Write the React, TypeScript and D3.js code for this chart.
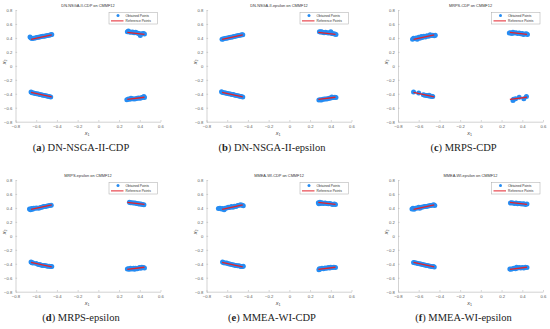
import React, { useRef, useEffect } from 'react';
import * as d3 from 'd3';

type Pt = [number, number];

// ─── data ────────────────────────────────────────────────────────────────────
const panelTitles = [
    'DN-NSGA-II-CDP on CMMF12',
    'DN-NSGA-II-epsilon on CMMF12',
    'MRPS-CDP on CMMF12',
    'MRPS-epsilon on CMMF12',
    'MMEA-WI-CDP on CMMF12',
    'MMEA-WI-epsilon on CMMF12',
];
const captionLetters = ['a', 'b', 'c', 'd', 'e', 'f'];
const captionNames = [
    'DN-NSGA-II-CDP',
    'DN-NSGA-II-epsilon',
    'MRPS-CDP',
    'MRPS-epsilon',
    'MMEA-WI-CDP',
    'MMEA-WI-epsilon',
];
const xTicks = [-0.8, -0.6, -0.4, -0.2, 0, 0.2, 0.4, 0.6];
const yTicks = [-0.8, -0.6, -0.4, -0.2, 0, 0.2, 0.4, 0.6, 0.8];
const legendLabels = ['Obtained Points', 'Reference Points'];

// four pieces of the reference Pareto set
const referenceSegments: Pt[][] = [
    [[-0.65, 0.38], [-0.45, 0.445]],
    [[0.28, 0.48], [0.445, 0.45]],
    [[-0.65, -0.38], [-0.45, -0.445]],
    [[0.28, -0.48], [0.445, -0.45]],
];

const dnNsgaCdp: Pt[] = [
    [-0.66, 0.415], [-0.65, 0.40], [-0.64, 0.39], [-0.625, 0.395], [-0.61, 0.40], [-0.595, 0.405], [-0.58, 0.41], [-0.565, 0.415],
    [-0.55, 0.42], [-0.535, 0.425], [-0.52, 0.425], [-0.505, 0.43], [-0.49, 0.435], [-0.475, 0.44], [-0.46, 0.445], [-0.45, 0.45],
    [0.28, 0.49], [0.29, 0.50], [0.30, 0.485], [0.315, 0.48], [0.33, 0.485], [0.345, 0.475], [0.36, 0.48], [0.375, 0.47],
    [0.39, 0.465], [0.40, 0.455], [0.405, 0.435], [0.42, 0.46], [0.435, 0.465], [0.445, 0.455],
    [-0.65, -0.375], [-0.64, -0.385], [-0.625, -0.39], [-0.61, -0.395], [-0.595, -0.40], [-0.58, -0.405], [-0.565, -0.41],
    [-0.55, -0.415], [-0.535, -0.42], [-0.52, -0.425], [-0.505, -0.43], [-0.49, -0.435], [-0.475, -0.44], [-0.46, -0.445],
    [0.275, -0.485], [0.29, -0.475], [0.305, -0.48], [0.315, -0.465], [0.33, -0.47], [0.345, -0.475], [0.36, -0.47],
    [0.375, -0.465], [0.39, -0.46], [0.405, -0.465], [0.42, -0.455], [0.43, -0.45], [0.44, -0.44], [0.445, -0.455],
];

const dnNsgaEps: Pt[] = [
    [-0.65, 0.38], [-0.64, 0.385], [-0.625, 0.39], [-0.61, 0.395], [-0.595, 0.40], [-0.58, 0.405], [-0.565, 0.41], [-0.55, 0.415],
    [-0.535, 0.42], [-0.52, 0.425], [-0.505, 0.43], [-0.49, 0.435], [-0.475, 0.44], [-0.46, 0.445], [-0.45, 0.445],
    [0.29, 0.49], [0.30, 0.485], [0.31, 0.49], [0.32, 0.48], [0.335, 0.475], [0.35, 0.48], [0.365, 0.475], [0.38, 0.47],
    [0.395, 0.475], [0.40, 0.49], [0.41, 0.465], [0.425, 0.46], [0.44, 0.455], [0.45, 0.45],
    [-0.655, -0.37], [-0.645, -0.38], [-0.63, -0.385], [-0.615, -0.39], [-0.60, -0.395], [-0.585, -0.40], [-0.57, -0.405],
    [-0.555, -0.41], [-0.54, -0.41], [-0.525, -0.42], [-0.51, -0.425], [-0.495, -0.43], [-0.48, -0.435], [-0.465, -0.44], [-0.45, -0.445],
    [0.285, -0.49], [0.30, -0.485], [0.31, -0.49], [0.325, -0.48], [0.34, -0.475], [0.355, -0.475], [0.37, -0.47],
    [0.385, -0.465], [0.40, -0.46], [0.41, -0.445], [0.425, -0.455], [0.44, -0.45], [0.45, -0.455],
];

const mrpsCdp: Pt[] = [
    [-0.66, 0.38], [-0.65, 0.395], [-0.64, 0.39], [-0.625, 0.40], [-0.615, 0.38], [-0.60, 0.41], [-0.59, 0.395], [-0.575, 0.42],
    [-0.565, 0.405], [-0.55, 0.425], [-0.535, 0.415], [-0.52, 0.43], [-0.505, 0.425], [-0.49, 0.445], [-0.48, 0.435],
    [-0.465, 0.44], [-0.45, 0.43], [-0.44, 0.44],
    [0.275, 0.47], [0.285, 0.475], [0.30, 0.465], [0.31, 0.48], [0.325, 0.47], [0.34, 0.475], [0.355, 0.465], [0.37, 0.47],
    [0.385, 0.46], [0.40, 0.465], [0.41, 0.45], [0.425, 0.455], [0.44, 0.46], [0.45, 0.45],
    [-0.65, -0.375], [-0.60, -0.39], [-0.555, -0.415], [-0.54, -0.42], [-0.525, -0.425], [-0.51, -0.43], [-0.50, -0.42],
    [-0.49, -0.435], [-0.475, -0.435], [-0.465, -0.44],
    [0.31, -0.495], [0.315, -0.48], [0.335, -0.47], [0.37, -0.45], [0.415, -0.47], [0.44, -0.44],
];

const mrpsEps: Pt[] = [
    [-0.665, 0.385], [-0.655, 0.375], [-0.645, 0.39], [-0.635, 0.38], [-0.625, 0.395], [-0.61, 0.395], [-0.595, 0.40],
    [-0.575, 0.395], [-0.56, 0.405], [-0.545, 0.41], [-0.53, 0.42], [-0.515, 0.42], [-0.50, 0.425], [-0.485, 0.43],
    [-0.47, 0.435], [-0.455, 0.44],
    [0.30, 0.48], [0.31, 0.475], [0.325, 0.475], [0.34, 0.47], [0.355, 0.47], [0.37, 0.465], [0.385, 0.46], [0.395, 0.455],
    [0.41, 0.455], [0.425, 0.45], [0.44, 0.445],
    [-0.65, -0.375], [-0.64, -0.385], [-0.63, -0.39], [-0.60, -0.395], [-0.58, -0.41], [-0.565, -0.41], [-0.55, -0.42],
    [-0.535, -0.425], [-0.52, -0.425], [-0.505, -0.43], [-0.49, -0.435], [-0.475, -0.435], [-0.46, -0.44], [-0.45, -0.44],
    [0.28, -0.475], [0.29, -0.47], [0.30, -0.48], [0.31, -0.465], [0.325, -0.475], [0.34, -0.465], [0.35, -0.48], [0.36, -0.465],
    [0.375, -0.47], [0.39, -0.46], [0.40, -0.455], [0.41, -0.465], [0.42, -0.45], [0.435, -0.455], [0.445, -0.46],
];

const mmeaCdp: Pt[] = [
    [-0.685, 0.39], [-0.67, 0.395], [-0.655, 0.385], [-0.645, 0.39], [-0.63, 0.375], [-0.62, 0.395], [-0.605, 0.40], [-0.59, 0.41],
    [-0.575, 0.405], [-0.56, 0.42], [-0.545, 0.41], [-0.53, 0.425], [-0.515, 0.42], [-0.50, 0.435], [-0.485, 0.44],
    [-0.47, 0.445], [-0.455, 0.44], [-0.445, 0.43],
    [0.28, 0.475], [0.285, 0.46], [0.295, 0.48], [0.305, 0.465], [0.315, 0.475], [0.33, 0.465], [0.345, 0.47], [0.36, 0.465],
    [0.375, 0.46], [0.39, 0.465], [0.405, 0.455], [0.42, 0.45], [0.435, 0.455], [0.445, 0.45],
    [-0.645, -0.375], [-0.635, -0.385], [-0.62, -0.39], [-0.605, -0.39], [-0.59, -0.40], [-0.575, -0.405], [-0.56, -0.41],
    [-0.545, -0.415], [-0.53, -0.42], [-0.515, -0.425], [-0.50, -0.43], [-0.485, -0.43], [-0.47, -0.44], [-0.455, -0.44], [-0.445, -0.435],
    [0.285, -0.485], [0.29, -0.47], [0.30, -0.475], [0.315, -0.465], [0.33, -0.47], [0.345, -0.46], [0.36, -0.465],
    [0.375, -0.455], [0.39, -0.46], [0.40, -0.45], [0.415, -0.455], [0.43, -0.45], [0.445, -0.455],
];

const mmeaEps: Pt[] = [
    [-0.665, 0.385], [-0.655, 0.395], [-0.645, 0.38], [-0.63, 0.395], [-0.615, 0.40], [-0.60, 0.41], [-0.59, 0.395],
    [-0.575, 0.41], [-0.56, 0.415], [-0.545, 0.42], [-0.53, 0.42], [-0.515, 0.425], [-0.50, 0.43], [-0.485, 0.435],
    [-0.47, 0.44], [-0.455, 0.445], [-0.445, 0.435],
    [0.285, 0.47], [0.295, 0.475], [0.31, 0.47], [0.325, 0.465], [0.34, 0.47], [0.355, 0.46], [0.37, 0.465], [0.385, 0.46],
    [0.40, 0.455], [0.415, 0.46], [0.43, 0.45], [0.445, 0.455],
    [-0.65, -0.38], [-0.64, -0.385], [-0.625, -0.39], [-0.61, -0.395], [-0.595, -0.40], [-0.58, -0.405], [-0.565, -0.41],
    [-0.55, -0.415], [-0.535, -0.42], [-0.52, -0.425], [-0.505, -0.43], [-0.49, -0.435], [-0.475, -0.44], [-0.46, -0.44], [-0.45, -0.445],
    [0.28, -0.475], [0.29, -0.48], [0.305, -0.47], [0.32, -0.465], [0.335, -0.47], [0.345, -0.45], [0.355, -0.46],
    [0.37, -0.455], [0.385, -0.46], [0.40, -0.455], [0.415, -0.46], [0.43, -0.45], [0.445, -0.455],
];

const obtainedSets = [dnNsgaCdp, dnNsgaEps, mrpsCdp, mrpsEps, mmeaCdp, mmeaEps];

// ─── layout ─────────────────────────────────────────────────────────────────
const W = 550;
const H = 329;
const colLeft = [15.5, 206.5, 398];
const rowTop = [10, 180];
const plotW = 145;
const plotH = 111.7;

const BLUE = '#268cf2';
const RED = '#e3222b';
const AXIS = '#b5b5b5';
const SANS = 'Liberation Sans, Arial, sans-serif';

const App: React.FC = () => {
    const ref = useRef<SVGSVGElement | null>(null);

    useEffect(() => {
        document.body.style.margin = '0';
        if (!ref.current) return;
        const svg = d3.select(ref.current);
        svg.selectAll('*').remove();

        svg.append('rect').attr('width', W).attr('height', H).attr('fill', '#fff');

        obtainedSets.forEach((points, i) => {
            const left = colLeft[i % 3];
            const top = rowTop[Math.floor(i / 3)];
            const x = d3.scaleLinear().domain([-0.8, 0.6]).range([left, left + plotW]);
            const y = d3.scaleLinear().domain([-0.8, 0.8]).range([top + plotH, top]);
            const g = svg.append('g');

            // axes (box off, ticks inward)
            const xAxis = g.append('g')
                .attr('transform', `translate(0,${top + plotH})`)
                .call(d3.axisBottom(x).tickValues(xTicks).tickSizeInner(-1.6).tickSizeOuter(0).tickPadding(3.2)
                    .tickFormat(d => d3.format('')(+d)));
            const yAxis = g.append('g')
                .attr('transform', `translate(${left},0)`)
                .call(d3.axisLeft(y).tickValues(yTicks).tickSizeInner(-1.6).tickSizeOuter(0).tickPadding(3.2)
                    .tickFormat(d => d3.format('')(+d)));
            [xAxis, yAxis].forEach(ax => {
                ax.select('.domain').attr('stroke', AXIS).attr('stroke-width', 0.6);
                ax.selectAll('.tick line').attr('stroke', AXIS).attr('stroke-width', 0.6);
                ax.selectAll('.tick text')
                    .attr('fill', '#5a5a5a')
                    .style('font-size', '4.2px')
                    .style('font-family', SANS);
            });

            // axis labels
            const xl = g.append('text')
                .attr('x', left + plotW / 2 - 1)
                .attr('y', top + plotH + 13.5)
                .attr('text-anchor', 'middle')
                .attr('fill', '#444')
                .style('font-size', '5.5px')
                .style('font-family', SANS);
            xl.append('tspan').style('font-style', 'italic').text('x');
            xl.append('tspan').attr('dy', 1.2).style('font-size', '3.6px').text('1');

            const yl = g.append('text')
                .attr('transform', `translate(${left - 10},${top + plotH / 2 - 4}) rotate(-90)`)
                .attr('text-anchor', 'middle')
                .attr('fill', '#444')
                .style('font-size', '5.5px')
                .style('font-family', SANS);
            yl.append('tspan').style('font-style', 'italic').text('x');
            yl.append('tspan').attr('dy', 1.2).style('font-size', '3.6px').text('2');

            // title
            g.append('text')
                .attr('x', left + plotW / 2)
                .attr('y', top - 3.4)
                .attr('text-anchor', 'middle')
                .attr('fill', '#333')
                .style('font-size', '3.9px')
                .style('font-family', SANS)
                .text(panelTitles[i]);

            // obtained points
            g.append('g')
                .selectAll('circle')
                .data(points)
                .enter()
                .append('circle')
                .attr('cx', d => x(d[0]))
                .attr('cy', d => y(d[1]))
                .attr('r', 2.5)
                .attr('fill', BLUE);

            // reference points drawn as a line
            const line = d3.line<Pt>().x(d => x(d[0])).y(d => y(d[1]));
            g.append('g')
                .selectAll('path')
                .data(referenceSegments)
                .enter()
                .append('path')
                .attr('d', d => line(d) as string)
                .attr('fill', 'none')
                .attr('stroke', RED)
                .attr('stroke-width', 1.3);

            // legend
            const lx = left + plotW - 51.5;
            const ly = top + 2.3;
            const lg = g.append('g').attr('transform', `translate(${lx},${ly})`);
            lg.append('rect')
                .attr('width', 48.5)
                .attr('height', 11.7)
                .attr('fill', '#fff')
                .attr('stroke', '#a8a8a8')
                .attr('stroke-width', 0.5);
            lg.append('circle').attr('cx', 9).attr('cy', 3.2).attr('r', 1.5).attr('fill', BLUE);
            lg.append('line')
                .attr('x1', 2).attr('x2', 14.5)
                .attr('y1', 8.6).attr('y2', 8.6)
                .attr('stroke', RED).attr('stroke-width', 1);
            legendLabels.forEach((t, k) => {
                lg.append('text')
                    .attr('x', 16.5)
                    .attr('y', 3.2 + k * 5.4)
                    .attr('dy', '0.35em')
                    .attr('fill', '#333')
                    .style('font-size', '3.3px')
                    .style('font-family', SANS)
                    .text(t);
            });

            // sub-figure caption
            const cap = g.append('text')
                .attr('x', left + plotW / 2 - 7)
                .attr('y', top + plotH + 29.5)
                .attr('text-anchor', 'middle')
                .attr('fill', '#222')
                .style('font-size', '10.5px')
                .style('font-weight', 400)
                .style('font-family', 'Liberation Serif, DejaVu Serif, serif');
            cap.append('tspan').text('(');
            cap.append('tspan').style('font-weight', 700).text(captionLetters[i]);
            cap.append('tspan').text(`) ${captionNames[i]}`);
        });
    }, []);

    return <svg ref={ref} width={W} height={H} style={{ display: 'block' }} />;
};

export default App;
